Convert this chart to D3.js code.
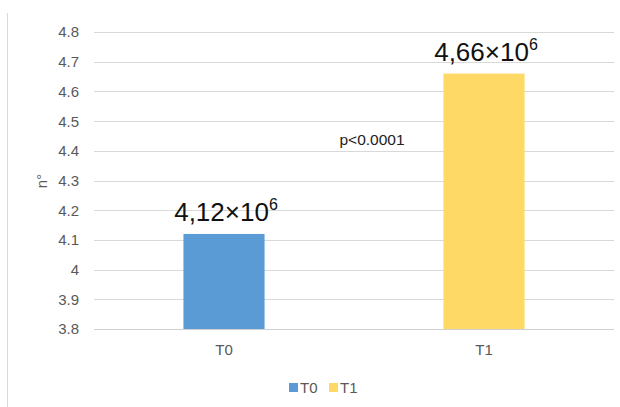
<!DOCTYPE html>
<html>
<head>
<meta charset="utf-8">
<script src="https://cdn.jsdelivr.net/npm/d3@7"></script>
<style>
  html, body { margin: 0; padding: 0; background: #fff; }
  svg { display: block; font-family: "Liberation Sans", Arial, sans-serif; }
</style>
</head>
<body>
<svg id="chart" width="620" height="407"></svg>
<script>
// Category names, values (×10^6) and the y-axis ticks
const categories = ["T0", "T1"];
const values = [4.12, 4.66];
const colors = ["#5b9bd5", "#ffd966"];
const yTicks = [3.8, 3.9, 4.0, 4.1, 4.2, 4.3, 4.4, 4.5, 4.6, 4.7, 4.8];
const yTitle = "n°";
const pLabel = "p<0.0001";

const svg = d3.select("#chart");
const W = 620, H = 407;
const plot = { left: 94, right: 614, top: 32, bottom: 329 };

const x = d3.scaleBand().domain(categories).range([plot.left, plot.right]).padding(0);
const y = d3.scaleLinear().domain([3.8, 4.8]).range([plot.bottom, plot.top]);
const barW = x.bandwidth() * 0.312;

// chart frame (left edge only is visible)
svg.append("line")
  .attr("x1", 7.5).attr("x2", 7.5).attr("y1", 13).attr("y2", H)
  .attr("stroke", "#d9d9d9").attr("stroke-width", 1);

// horizontal gridlines
svg.append("g").selectAll("line").data(yTicks.slice(1)).join("line")
  .attr("x1", plot.left).attr("x2", plot.right)
  .attr("y1", d => Math.round(y(d)) + 0.5).attr("y2", d => Math.round(y(d)) + 0.5)
  .attr("stroke", "#d9d9d9").attr("stroke-width", 1);

// y tick labels
svg.append("g").selectAll("text").data(yTicks).join("text")
  .attr("x", 79).attr("y", d => y(d))
  .attr("dy", "0.36em")
  .attr("text-anchor", "end")
  .attr("font-size", 15)
  .attr("fill", "#595959")
  .text(d => d3.format("~g")(d));

// y axis title
svg.append("text")
  .attr("transform", "translate(47,181) rotate(-90)")
  .attr("text-anchor", "middle")
  .attr("font-size", 15)
  .attr("fill", "#595959")
  .text(yTitle);

// bars
svg.append("g").selectAll("rect").data(values).join("rect")
  .attr("x", (d, i) => x(categories[i]) + x.bandwidth() / 2 - barW / 2)
  .attr("width", barW)
  .attr("y", d => y(d))
  .attr("height", d => y(3.8) - y(d))
  .attr("fill", (d, i) => colors[i]);

// category axis baseline
svg.append("line")
  .attr("x1", plot.left).attr("x2", plot.right)
  .attr("y1", plot.bottom + 0.5).attr("y2", plot.bottom + 0.5)
  .attr("stroke", "#d0d0d0").attr("stroke-width", 1);

// category labels
svg.append("g").selectAll("text").data(categories).join("text")
  .attr("x", d => x(d) + x.bandwidth() / 2)
  .attr("y", 355)
  .attr("text-anchor", "middle")
  .attr("font-size", 15)
  .attr("fill", "#595959")
  .text(d => d);

// value labels: "4,12×10^6"
const fmt = d3.format(".2f");
const vl = svg.append("g").selectAll("text").data(values).join("text")
  .attr("x", (d, i) => x(categories[i]) + x.bandwidth() / 2 + 2)
  .attr("y", d => y(d) - 13)
  .attr("text-anchor", "middle")
  .attr("font-size", 26)
  .attr("fill", "#111");
vl.append("tspan").text(d => fmt(d).replace(".", ",") + "×10");
vl.append("tspan").attr("font-size", 16).attr("dy", -11).text("6");

// significance label
svg.append("text")
  .attr("x", 372).attr("y", 145)
  .attr("text-anchor", "middle")
  .attr("font-size", 15.5)
  .attr("fill", "#222")
  .text(pLabel);

// legend
const lg = svg.append("g").selectAll("g").data(categories).join("g")
  .attr("transform", (d, i) => `translate(${289 + i * 40},383)`);
lg.append("rect").attr("width", 9).attr("height", 9).attr("fill", (d, i) => colors[i]);
lg.append("text").attr("x", 11).attr("y", 9.5)
  .attr("font-size", 15).attr("fill", "#595959").text(d => d);
</script>
</body>
</html>
